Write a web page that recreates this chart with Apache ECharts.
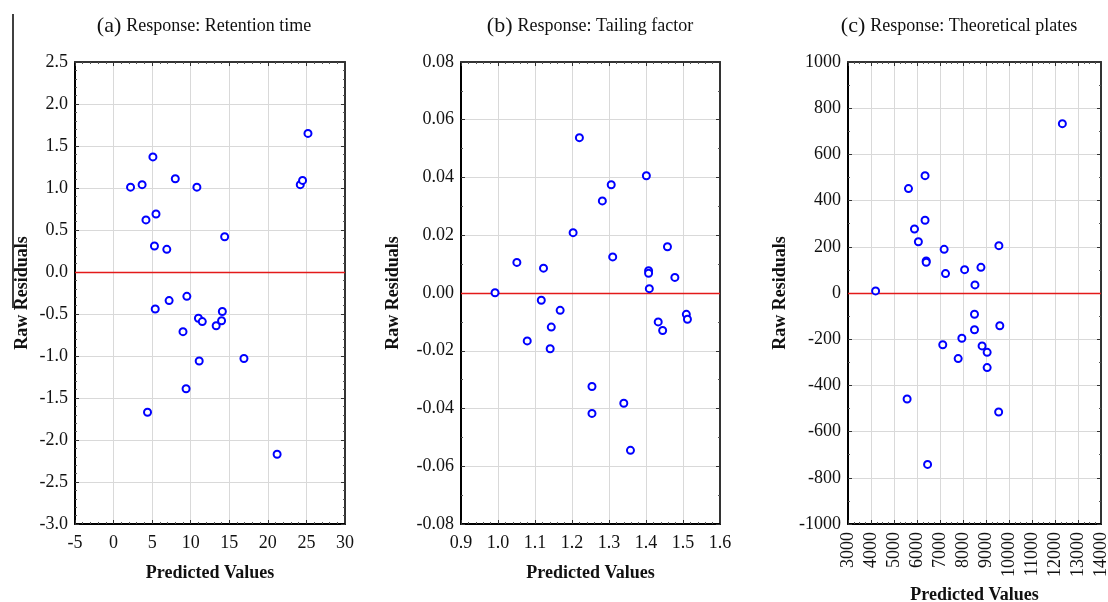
<!DOCTYPE html>
<html>
<head>
<meta charset="utf-8">
<script src="https://cdn.jsdelivr.net/npm/echarts@6/dist/echarts.min.js"></script>
<style>
  html, body { margin: 0; padding: 0; background: #fff; }
  #chart { width: 1108px; height: 602px; }
</style>
</head>
<body>
<div id="chart"></div>
<script>
// (a) Retention time
var retentionPred = [2.2, 3.7, 5.1, 8.0, 10.8, 4.2, 5.5, 5.3, 6.9, 14.4, 24.2, 24.5, 25.2, 5.4, 7.2, 9.5, 9.0, 11.0, 11.5, 13.3, 14.0, 14.1, 11.1, 16.9, 9.4, 4.4, 21.2];
var retentionRes  = [1.01, 1.04, 1.37, 1.11, 1.01, 0.62, 0.69, 0.31, 0.27, 0.42, 1.04, 1.09, 1.65, -0.44, -0.34, -0.29, -0.71, -0.55, -0.59, -0.64, -0.58, -0.47, -1.06, -1.03, -1.39, -1.67, -2.17];
// (b) Tailing factor
var tailingPred = [0.992, 1.051, 1.123, 1.203, 1.220, 1.282, 1.306, 1.310, 1.401, 1.407, 1.407, 1.409, 1.458, 1.478, 1.117, 1.168, 1.144, 1.079, 1.141, 1.254, 1.254, 1.340, 1.358, 1.433, 1.445, 1.509, 1.512];
var tailingRes  = [0.0001, 0.0106, 0.0086, 0.0209, 0.0538, 0.0319, 0.0375, 0.0125, 0.0406, 0.0077, 0.0068, 0.0015, 0.0160, 0.0054, -0.0025, -0.0060, -0.0118, -0.0166, -0.0193, -0.0324, -0.0417, -0.0382, -0.0545, -0.0100, -0.0130, -0.0074, -0.0091];
// (c) Theoretical plates
var platesPred = [4200, 5630, 6350, 5890, 6350, 6060, 6400, 6400, 7180, 7240, 8070, 8520, 8780, 9560, 12320, 8500, 8500, 9600, 7950, 7120, 8830, 9050, 9050, 7790, 5570, 9550, 6460];
var platesRes  = [9, 452, 508, 277, 315, 222, 139, 133, 189, 84, 101, 35, 111, 205, 733, -92, -159, -142, -196, -224, -229, -257, -323, -284, -459, -515, -742];

var panelTitles = ['Response: Retention time', 'Response: Tailing factor', 'Response: Theoretical plates'];
var panelLetters = ['(a)', '(b)', '(c)'];
var xAxisName = 'Predicted Values';
var yAxisName = 'Raw Residuals';

var FONT = '"Liberation Serif", "Times New Roman", serif';

var panels = [
  { grid: {left: 75, top: 62, width: 270, height: 462},
    x: {min: -5, max: 30, interval: 5, dec: 0, minor: 5, rot: 0, nameGap: 40},
    y: {min: -3, max: 2.5, interval: 0.5, dec: 1, minor: 5, nameGap: 44},
    px: retentionPred, py: retentionRes, titleX: 199 },
  { grid: {left: 461, top: 62, width: 259, height: 462},
    x: {min: 0.9, max: 1.6, interval: 0.1, dec: 1, minor: 5, rot: 0, nameGap: 40},
    y: {min: -0.08, max: 0.08, interval: 0.02, dec: 2, minor: 2, nameGap: 59},
    px: tailingPred, py: tailingRes, titleX: 585 },
  { grid: {left: 848, top: 62, width: 253, height: 462},
    x: {min: 3000, max: 14000, interval: 1000, dec: 0, minor: 4, rot: 90, nameGap: 62},
    y: {min: -1000, max: 1000, interval: 200, dec: 0, minor: 2, nameGap: 59},
    px: platesPred, py: platesRes, titleX: 954 }
];

var grids = [], xAxes = [], yAxes = [], series = [], titles = [];

panels.forEach(function (p, i) {
  grids.push(Object.assign({containLabel: false, outerBoundsMode: 'none'}, p.grid));
  var xd = p.x.dec, yd = p.y.dec;
  var common = function (a) {
    return { min: a.min, max: a.max, interval: a.interval, type: 'value', gridIndex: i };
  };
  xAxes.push(Object.assign(common(p.x), {
    position: 'bottom',
    name: xAxisName, nameLocation: 'middle', nameGap: p.x.nameGap,
    nameTextStyle: {fontFamily: FONT, fontWeight: 'bold', fontSize: 18, color: '#111'},
    axisLine: {show: true, onZero: false, lineStyle: {color: '#000', width: 2}},
    axisTick: {show: true, inside: true, length: 4, lineStyle: {color: '#333'}},
    minorTick: {show: true, splitNumber: p.x.minor, length: 2, lineStyle: {color: '#555'}},
    axisLabel: {fontFamily: FONT, fontSize: 18, color: '#111', margin: p.x.rot ? 8 : 10, rotate: p.x.rot,
      hideOverlap: false,
      formatter: function (v) { return Number(v).toFixed(xd); }},
    splitLine: {show: true, lineStyle: {color: '#d9d9d9', width: 1}}
  }));
  xAxes.push(Object.assign(common(p.x), {
    position: 'top',
    axisLine: {show: true, onZero: false, lineStyle: {color: '#333', width: 2}},
    axisTick: {show: true, inside: true, length: 4, lineStyle: {color: '#333'}},
    minorTick: {show: true, splitNumber: p.x.minor, length: 2, lineStyle: {color: '#555'}},
    axisLabel: {show: false},
    splitLine: {show: false}
  }));
  yAxes.push(Object.assign(common(p.y), {
    position: 'left',
    name: yAxisName, nameLocation: 'middle', nameGap: p.y.nameGap,
    nameTextStyle: {fontFamily: FONT, fontWeight: 'bold', fontSize: 18, color: '#111'},
    axisLine: {show: true, onZero: false, lineStyle: {color: '#000', width: 2}},
    axisTick: {show: true, inside: true, length: 4, lineStyle: {color: '#333'}},
    minorTick: {show: true, splitNumber: p.y.minor, length: 2, lineStyle: {color: '#555'}},
    axisLabel: {fontFamily: FONT, fontSize: 18, color: '#111', margin: 7,
      formatter: function (v) { return Number(v).toFixed(yd); }},
    splitLine: {show: true, lineStyle: {color: '#d9d9d9', width: 1}}
  }));
  yAxes.push(Object.assign(common(p.y), {
    position: 'right',
    axisLine: {show: true, onZero: false, lineStyle: {color: '#333', width: 2}},
    axisTick: {show: true, inside: true, length: 4, lineStyle: {color: '#333'}},
    minorTick: {show: true, splitNumber: p.y.minor, length: 2, lineStyle: {color: '#555'}},
    axisLabel: {show: false},
    splitLine: {show: false}
  }));

  var data = p.px.map(function (x, k) { return [x, p.py[k]]; });
  series.push({
    type: 'scatter',
    xAxisIndex: i * 2, yAxisIndex: i * 2,
    data: data,
    symbol: 'emptyCircle',
    symbolSize: 7,
    itemStyle: {color: '#0000ff', borderColor: '#0000ff', borderWidth: 2, opacity: 1},
    markLine: {
      silent: true, symbol: 'none', animation: false,
      label: {show: false},
      lineStyle: {color: '#e31a1a', type: 'solid', width: 1.3},
      data: [{yAxis: 0}]
    },
    z: 5
  });

  titles.push({
    text: '{l|' + panelLetters[i] + '} {t|' + panelTitles[i] + '}',
    left: p.titleX, top: 10, textAlign: 'center',
    textStyle: {
      fontWeight: 'normal',
      rich: {
        l: {fontFamily: FONT, fontSize: 22, fontWeight: 'normal', color: '#111'},
        t: {fontFamily: FONT, fontSize: 18, fontWeight: 'normal', color: '#111'}
      }
    }
  });
});

var chart = echarts.init(document.getElementById('chart'), null, {renderer: 'canvas'});
chart.setOption({
  animation: false,
  backgroundColor: '#fff',
  title: titles,
  grid: grids,
  xAxis: xAxes,
  yAxis: yAxes,
  series: series,
  graphic: [{
    type: 'line', silent: true,
    shape: {x1: 13, y1: 14, x2: 13, y2: 308},
    style: {stroke: '#000', lineWidth: 1.5}
  }]
});
</script>
</body>
</html>
